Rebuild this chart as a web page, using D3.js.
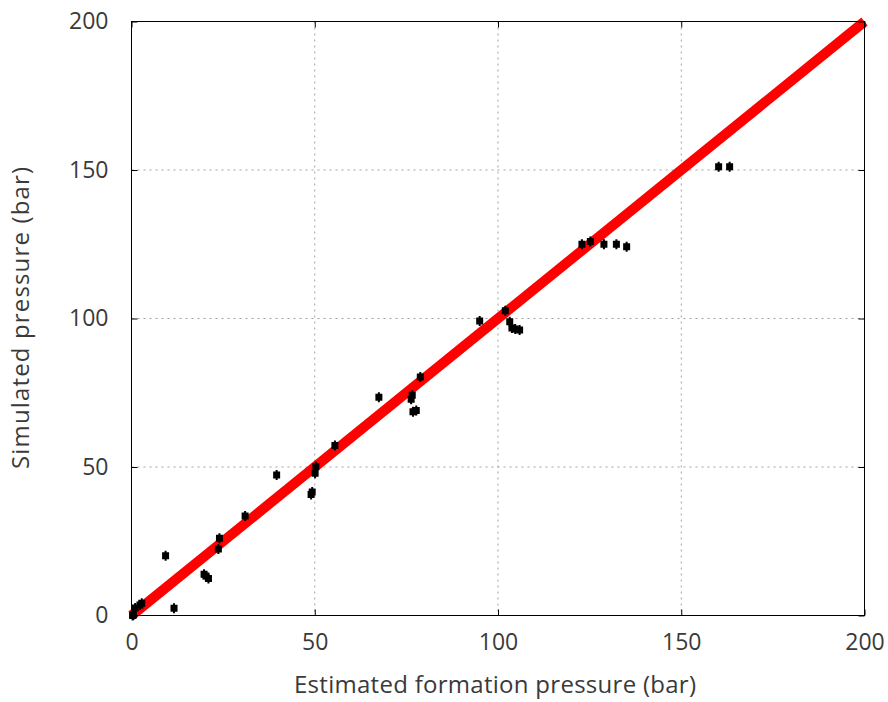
<!DOCTYPE html>
<html><head><meta charset="utf-8">
<script src="https://cdn.jsdelivr.net/npm/d3@7"></script>
<style>body{margin:0;background:#fff}svg{display:block}text{font-family:"Open Sans",sans-serif;fill:#3a3a3a}</style>
</head><body>
<script>
const xTicks=[0,50,100,150,200];
const yTicks=[0,50,100,150,200];
const xLabel="Estimated formation pressure (bar)";
const yLabel="Simulated pressure (bar)";
const estimated=[0.3,0.5,1.0,2.3,2.8,9.3,11.6,19.8,20.3,21.0,24.0,23.7,31.0,39.6,49.0,49.3,50.3,50.1,55.5,67.5,76.6,76.3,76.8,77.7,78.8,95.0,102.0,103.2,103.8,104.7,105.9,122.9,125.2,128.9,132.3,135.1,160.2,163.2];
const simulated=[0.0,0.2,2.5,3.5,4.1,20.1,2.4,13.9,13.3,12.5,26.0,22.4,33.5,47.3,40.7,41.6,50.1,47.9,57.2,73.5,74.2,72.8,68.6,69.0,80.3,99.2,102.6,98.9,96.8,96.5,96.1,125.0,125.9,125.0,125.0,124.2,151.1,151.1];
const identity=[0,200];

const W=888,H=702;
const L=131.5,T=21.5,R=864.5,B=615.5;
const svg=d3.select("body").append("svg").attr("width",W).attr("height",H);
const x=d3.scaleLinear().domain([0,200]).range([L,R]);
const y=d3.scaleLinear().domain([0,200]).range([B,T]);

// grid
const g=svg.append("g");
g.selectAll(".gx").data(xTicks.filter(d=>d>0&&d<200)).join("line")
 .attr("x1",d=>x(d)).attr("x2",d=>x(d)).attr("y1",T).attr("y2",B)
 .attr("stroke","#a0a0a0").attr("stroke-width",1).attr("stroke-dasharray","2,4");
g.selectAll(".gy").data(yTicks.filter(d=>d>0&&d<200)).join("line")
 .attr("y1",d=>y(d)).attr("y2",d=>y(d)).attr("x1",L).attr("x2",R)
 .attr("stroke","#a0a0a0").attr("stroke-width",1).attr("stroke-dasharray","2,4");

// identity line
svg.append("path").datum(identity)
 .attr("d",d3.line().x(d=>x(d)).y(d=>y(d)))
 .attr("stroke","#ff0000").attr("stroke-width",10).attr("fill","none");

// points
const marker="M-3.5,-3.5H3.5V3.5H-3.5Z M-1,-5H1V5H-1Z";
svg.selectAll(".pt").data(estimated.map((e,i)=>[e,simulated[i]])).join("path")
 .attr("transform",d=>`translate(${x(d[0])},${y(d[1])})`)
 .attr("d",marker).attr("fill","#000");

// axes with inward ticks
const axB=d3.axisBottom(x).tickValues(xTicks).tickSizeInner(-6).tickSizeOuter(0).tickPadding(14);
const axL=d3.axisLeft(y).tickValues(yTicks).tickSizeInner(-6).tickSizeOuter(0).tickPadding(23);
const axT=d3.axisTop(x).tickValues(xTicks).tickSizeInner(-6).tickSizeOuter(0).tickFormat("");
const axR=d3.axisRight(y).tickValues(yTicks).tickSizeInner(-6).tickSizeOuter(0).tickFormat("");
function style(sel){sel.selectAll("path").remove();sel.selectAll("line").attr("stroke","#000");sel.selectAll("text").attr("font-size",23).attr("font-family","Open Sans").attr("fill","#3a3a3a");}
const gb=svg.append("g").attr("transform",`translate(0,${B})`).call(axB).call(style);
gb.selectAll("text").attr("dy",null).attr("y",null).attr("transform","translate(0,34)");
svg.append("g").attr("transform",`translate(${L},0)`).call(axL).call(style);
svg.append("g").attr("transform",`translate(0,${T})`).call(axT).call(style);
svg.append("g").attr("transform",`translate(${R},0)`).call(axR).call(style);

svg.append("rect").attr("x",L).attr("y",T).attr("width",R-L).attr("height",B-T)
 .attr("fill","none").attr("stroke","#000").attr("stroke-width",1);

svg.append("text").attr("x",495).attr("y",693).attr("text-anchor","middle")
 .attr("font-size",24).attr("textLength",402).attr("lengthAdjust","spacing").text(xLabel);
svg.append("text").attr("transform",`translate(29,318) rotate(-90)`).attr("text-anchor","middle")
 .attr("font-size",24).attr("textLength",302).attr("lengthAdjust","spacing").text(yLabel);
</script>
</body></html>
